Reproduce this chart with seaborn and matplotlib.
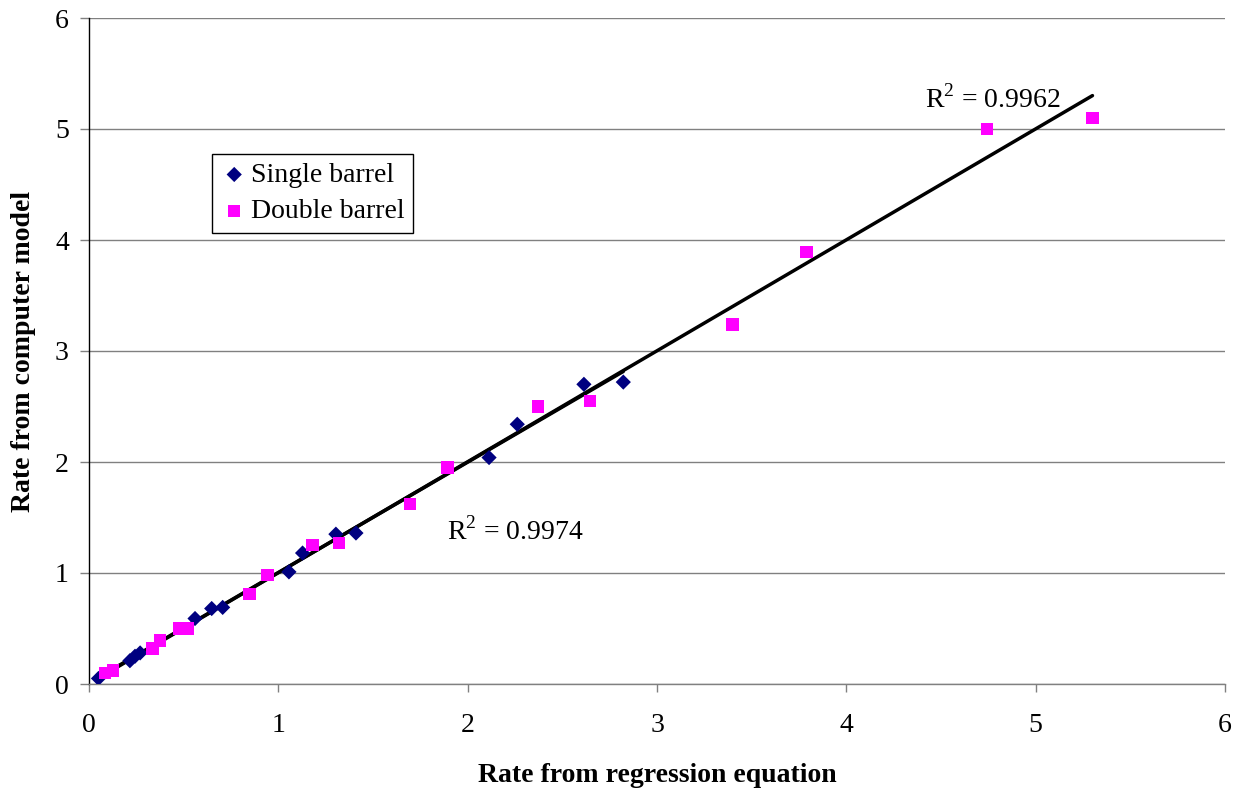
import matplotlib
matplotlib.use("Agg")
import matplotlib.pyplot as plt
import seaborn as sns
import pandas as pd

single_x = [0.05, 0.216, 0.243, 0.27, 0.56, 0.648, 0.706, 1.056, 1.128, 1.304, 1.41, 2.113, 2.262, 2.614, 2.822]
single_y = [0.05, 0.21, 0.25, 0.28, 0.59, 0.68, 0.69, 1.01, 1.18, 1.35, 1.36, 2.04, 2.34, 2.70, 2.72]
double_x = [0.085, 0.127, 0.336, 0.375, 0.477, 0.524, 0.847, 0.943, 1.18, 1.32, 1.695, 1.893, 2.37, 2.646, 3.398, 3.79, 4.743, 5.30]
double_y = [0.10, 0.12, 0.32, 0.39, 0.50, 0.50, 0.81, 0.98, 1.25, 1.27, 1.62, 1.95, 2.50, 2.55, 3.24, 3.89, 5.00, 5.10]
ticks = [0, 1, 2, 3, 4, 5, 6]
r2_labels = ["R$^2$ = 0.9974", "R$^2$ = 0.9962"]

sns.set_theme(style="white")
plt.rcParams['font.family'] = ['Liberation Serif', 'DejaVu Serif']
plt.rcParams['mathtext.fontset'] = 'custom'
plt.rcParams['mathtext.rm'] = 'Liberation Serif'
plt.rcParams['text.color'] = 'black'
plt.rcParams['axes.labelcolor'] = 'black'
plt.rcParams['xtick.color'] = 'black'
plt.rcParams['ytick.color'] = 'black'

GRAY = "#808080"

df_s = pd.DataFrame({"x": single_x, "y": single_y})
df_d = pd.DataFrame({"x": double_x, "y": double_y})

fig = plt.figure(figsize=(12.36, 7.91), dpi=100)
ax = fig.add_axes([89/1236, 1-684/791, (1225-89)/1236, (684-18)/791])

sns.regplot(data=df_s, x="x", y="y", scatter=False, ci=None, color="black",
            line_kws={"linewidth": 2.5}, ax=ax)
sns.regplot(data=df_d, x="x", y="y", scatter=False, ci=None, color="black",
            line_kws={"linewidth": 2.5}, ax=ax)
sns.scatterplot(data=df_s, x="x", y="y", marker="D", s=60, color="#000080",
                edgecolor="none", label="Single barrel", ax=ax, zorder=3)
sns.scatterplot(data=df_d, x="x", y="y", marker="s", s=80, color="#FF00FF",
                edgecolor="none", label="Double barrel", ax=ax, zorder=3)

ax.set_xlim(0, 6)
ax.set_ylim(0, 6)
ax.set_xticks(ticks)
ax.set_yticks(ticks)
ax.set_xticklabels([str(t) for t in ticks], fontsize=20)
ax.set_yticklabels([str(t) for t in ticks], fontsize=20)
ax.yaxis.grid(True, color=GRAY, linewidth=1)
ax.xaxis.grid(False)
ax.tick_params(axis="x", bottom=True, direction="out", length=6, width=1,
               color=GRAY, labelcolor="black", pad=15)
ax.tick_params(axis="y", left=True, direction="out", length=6.5, width=1,
               color=GRAY, labelcolor="black", pad=8)
for s in ["top", "right"]:
    ax.spines[s].set_visible(False)
ax.spines["left"].set_color("black")
ax.spines["left"].set_linewidth(1)
ax.spines["bottom"].set_color(GRAY)
ax.spines["bottom"].set_linewidth(1)

ax.set_xlabel("Rate from regression equation", fontsize=20, fontweight="bold", labelpad=18)
ax.set_ylabel("Rate from computer model", fontsize=20, fontweight="bold", labelpad=14)

ax.text(1.89, 1.30, r2_labels[0], fontsize=20)
ax.text(4.415, 5.19, r2_labels[1], fontsize=20)

leg = ax.legend(loc="upper left", bbox_to_anchor=(123/1136, 530/666), fontsize=20,
                frameon=True, fancybox=False, framealpha=1, edgecolor="black",
                borderaxespad=0, handletextpad=0.1, borderpad=0.3, labelspacing=0.4,
                handlelength=1.0)
leg.get_frame().set_linewidth(1)

fig.savefig("out.png", dpi=100)
